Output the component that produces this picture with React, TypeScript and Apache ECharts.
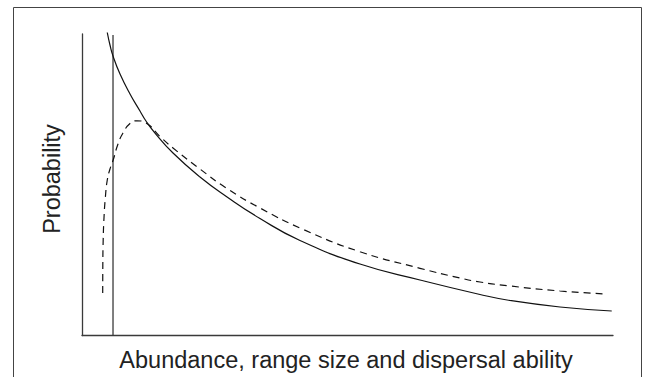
import React, { useEffect, useRef } from "react";
import * as echarts from "echarts";

// Conceptual curves (x and y on 0–100 scales)
const solidX = [4.76, 5.27, 5.84, 7.16, 9.04, 10.92, 12.05, 13.75, 17.14, 22.22, 27.25, 33.52, 41.05, 52.35, 63.65, 74.95, 80.6, 90.02, 99.76];
const solidY = [100.5, 96.35, 92.7, 86.73, 80.1, 74.46, 71.14, 67.16, 60.53, 52.57, 46.04, 38.81, 31.51, 23.71, 18.41, 13.6, 11.61, 9.45, 8.13];

const dashedX = [3.9, 3.92, 3.99, 4.14, 4.39, 4.76, 5.27, 5.84, 6.78, 7.72, 9.04, 10.36, 12.05, 14.69, 17.14, 22.22, 27.25, 33.52, 41.62, 52.35, 63.65, 71.19, 74.95, 80.6, 90.02, 98.81];
const dashedY = [14.1, 23.38, 31.67, 38.97, 45.61, 51.58, 55.22, 58.04, 63.52, 67.16, 70.32, 71.21, 70.48, 66.0, 62.19, 55.22, 48.82, 42.29, 35.22, 27.79, 22.29, 19.07, 17.74, 16.42, 14.76, 13.76];

const thresholdX = [5.84, 5.84];
const thresholdY = [0, 99.7];

const xTitle = "Abundance, range size and dispersal ability";
const yTitle = "Probability";

const zip = (xs: number[], ys: number[]) => xs.map((x, i) => [x, ys[i]]);

export default function App() {
  const ref = useRef<HTMLDivElement>(null);
  useEffect(() => {
    if (!ref.current) return;
    const chart = echarts.init(ref.current, undefined, { renderer: "svg" });
    const font = "'Liberation Sans', Arial, Helvetica, sans-serif";
    chart.setOption({
      animation: false,
      backgroundColor: "#ffffff",
      grid: { left: 82, top: 34, width: 531, height: 301.5 },
      xAxis: {
        type: "value",
        min: 0,
        max: 100,
        axisLine: { show: true, lineStyle: { color: "#3a3a3a", width: 1.3 } },
        axisTick: { show: false },
        axisLabel: { show: false },
        splitLine: { show: false },
      },
      yAxis: {
        type: "value",
        min: 0,
        max: 100,
        axisLine: { show: true, lineStyle: { color: "#3a3a3a", width: 1.3 } },
        axisTick: { show: false },
        axisLabel: { show: false },
        splitLine: { show: false },
      },
      series: [
        {
          type: "line",
          data: zip(thresholdX, thresholdY),
          symbol: "none",
          lineStyle: { color: "#3a3a3a", width: 1.3 },
          silent: true,
        },
        {
          type: "line",
          data: zip(solidX, solidY),
          symbol: "none",
          smooth: 0.5,
          clip: false,
          lineStyle: { color: "#111", width: 1.2 },
        },
        {
          type: "line",
          data: zip(dashedX, dashedY),
          symbol: "none",
          smooth: 0.5,
          clip: false,
          lineStyle: { color: "#111", width: 1.2, type: [7, 5] },
        },
      ],
      graphic: [
        {
          type: "rect",
          shape: { x: 13.5, y: 7.5, width: 628, height: 400 },
          style: { fill: "none", stroke: "#444", lineWidth: 1 },
          silent: true,
        },
        {
          type: "text",
          x: 346,
          y: 360,
          style: {
            text: xTitle,
            font: `23.5px ${font}`,
            fill: "#222",
            align: "center",
            verticalAlign: "middle",
          },
        },
        {
          type: "text",
          x: 52,
          y: 179,
          rotation: Math.PI / 2,
          style: {
            text: yTitle,
            font: `23.5px ${font}`,
            fill: "#222",
            align: "center",
            verticalAlign: "middle",
          },
        },
      ],
    });
    return () => chart.dispose();
  }, []);
  return (
    <div
      ref={ref}
      style={{ position: "fixed", left: 0, top: 0, width: 649, height: 377 }}
    />
  );
}
